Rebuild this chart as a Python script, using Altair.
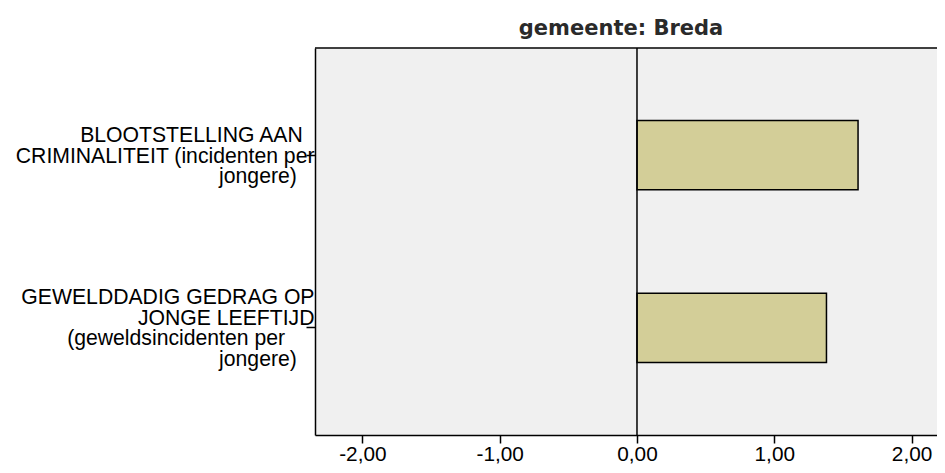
import altair as alt
import pandas as pd

# Categories (lines separated by '|'; trailing non-breaking spaces mimic the original wrapping)
ZW = "\u200b"
categories = [
    "BLOOTSTELLING AAN\u00a0\u00a0" + ZW + "|CRIMINALITEIT (incidenten per|jongere)\u00a0\u00a0\u00a0" + ZW,
    "GEWELDDADIG GEDRAG OP|JONGE LEEFTIJD|(geweldsincidenten per\u00a0\u00a0\u00a0\u00a0\u00a0" + ZW + "|jongere)\u00a0\u00a0\u00a0" + ZW,
]
values = [1.61, 1.38]
x_ticks = [-2, -1, 0, 1, 2]
zero_line = [0]
title_text = "gemeente: Breda"

df = pd.DataFrame({"cat": categories, "value": values})
zero_df = pd.DataFrame({"v": zero_line})

PLOT_W = 622
PLOT_H = 387
LABEL_FONT = "Liberation Sans"
FS_Y = 21.2
FS_X = 20.8

x_scale = alt.Scale(domain=[-2.345, 2.185], nice=False, zero=False)

bars = alt.Chart(df).mark_bar(
    fill="#d3ce98", stroke="black", strokeWidth=1.5
).encode(
    y=alt.Y(
        "cat:N",
        sort=categories,
        scale=alt.Scale(paddingInner=0.6, paddingOuter=0.42),
        axis=alt.Axis(
            title=None,
            labelExpr="split(datum.label, '|')",
            labelFont=LABEL_FONT,
            labelFontSize=FS_Y,
            labelColor="black",
            labelLineHeight=20.5,
            labelAlign="right",
            labelBaseline="middle",
            labelPadding=-8,
            labelOffset={
                "condition": {"test": "indexof(datum.value, 'GEWELD') === 0", "value": -29.5},
                "value": -19,
            },
            labelLimit=400,
            tickSize=9,
            tickColor="black",
            tickWidth=1.5,
            domainColor="black",
            domainWidth=1.5,
        ),
    ),
    x=alt.X(
        "value:Q",
        scale=x_scale,
        axis=alt.Axis(
            title=None,
            values=x_ticks,
            labelExpr="replace(replace(format(datum.value, '.2f'), '.', ','), '\u2212', '-')",
            grid=False,
            labelFont=LABEL_FONT,
            labelFontSize=FS_X,
            labelColor="black",
            labelFlush=False,
            labelPadding=1,
            tickSize=8,
            tickColor="black",
            tickWidth=1.5,
            domainColor="black",
            domainWidth=1.5,
        ),
    ),
)

zero = alt.Chart(zero_df).mark_rule(color="black", strokeWidth=1.5).encode(
    x=alt.X("v:Q", scale=x_scale)
)

top_border = alt.Chart(zero_df).mark_rule(color="black", strokeWidth=1.5).encode(
    y=alt.value(0), x=alt.value(0), x2=alt.value(PLOT_W)
)

chart = alt.layer(bars, zero, top_border).properties(
    width=PLOT_W,
    height=PLOT_H,
    autosize=alt.AutoSizeParams(type="none"),
    padding={"left": 307, "top": 40, "right": 0, "bottom": 30},
    title=alt.TitleParams(
        title_text,
        font="DejaVu Sans",
        fontSize=21,
        fontWeight="bold",
        color="#2a2a2a",
        anchor="middle",
        frame="group",
        dx=-5,
        dy=22,
        baseline="alphabetic",
        offset=13,
    ),
).configure_view(fill="#f0f0f0", stroke="transparent")

chart.save("out.html", embed_options={"renderer": "svg", "actions": False})
